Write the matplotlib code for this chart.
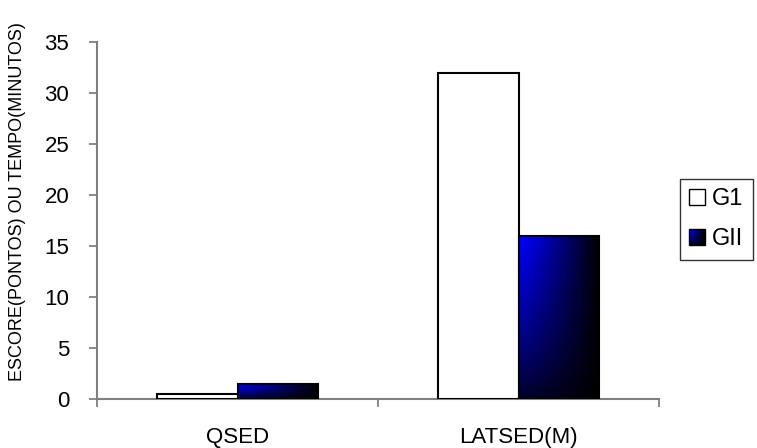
import numpy as np
import matplotlib.pyplot as plt
from matplotlib.patches import Rectangle
from matplotlib.legend_handler import HandlerPatch
from matplotlib.image import BboxImage
from matplotlib.transforms import Bbox, TransformedBbox

plt.rcParams['font.family'] = ['Liberation Sans', 'DejaVu Sans']

categories = ["QSED", "LATSED(M)"]
g1 = [0.45, 32]
gii = [1.5, 16]
series_names = ["G1", "GII"]
yticks = [0, 5, 10, 15, 20, 25, 30, 35]
ylabel = "ESCORE(PONTOS) OU TEMPO(MINUTOS)"

width = 0.288


def blue_gradient(n=64):
    # bright blue in the top-left corner, fading to black to the right and downwards
    u = np.linspace(0, 1, n)[None, :]
    v = np.linspace(1, 0, n)[:, None]
    f = np.clip((1 - u ** 1.1) * (0.15 + 0.85 * v ** 0.8), 0, 1)
    img = np.zeros((n, n, 3))
    img[..., 2] = f
    return img


def gradient_bar(ax, bar):
    x, y = bar.get_xy()
    w, h = bar.get_width(), bar.get_height()
    im = ax.imshow(blue_gradient(), extent=(x, x + w, y, y + h), aspect='auto',
                   origin='upper', zorder=2, interpolation='bilinear')
    im.set_clip_path(bar)


class GradientHandler(HandlerPatch):
    def create_artists(self, legend, orig_handle, xdescent, ydescent,
                       width, height, fontsize, trans):
        size = min(width, height)
        x0 = -xdescent + (width - size)
        y0 = -ydescent + (height - size) / 2
        rect = Rectangle((x0, y0), size, size, facecolor='none',
                         edgecolor='black', linewidth=1.0, transform=trans)
        if orig_handle.get_label() == "GII":
            bb = TransformedBbox(Bbox.from_bounds(x0, y0, size, size), trans)
            im = BboxImage(bb, interpolation='bilinear')
            im.set_data(blue_gradient())
            return [im, rect]
        rect.set_facecolor('white')
        return [rect]


fig = plt.figure(figsize=(7.57, 4.48), dpi=100)
ax = fig.add_axes([97 / 757, 1 - 399 / 448, (659 - 97) / 757, (399 - 42) / 448])

x = np.arange(len(categories))
bars1 = ax.bar(x - width / 2, g1, width, facecolor='white', edgecolor='black',
               linewidth=1.5, zorder=3, label=series_names[0])
bars2 = ax.bar(x + width / 2, gii, width, facecolor='none', edgecolor='black',
               linewidth=1.5, zorder=3, label=series_names[1])
for b in bars2:
    gradient_bar(ax, b)

ax.set_xlim(-0.5, len(categories) - 0.5)
ax.set_ylim(0, 35)
ax.set_yticks(yticks)
ax.set_xticks(x)
ax.set_xticklabels(categories)
ax.set_xticks([-0.5, 0.5, 1.5], minor=True)
ax.tick_params(axis='x', which='major', length=0, pad=20, labelsize=16)
ax.tick_params(axis='x', which='minor', length=6, color='#808080', width=1.3)
ax.tick_params(axis='y', length=6, color='#808080', width=1.3, labelsize=16, pad=14)

for s in ['top', 'right']:
    ax.spines[s].set_visible(False)
for s in ['left', 'bottom']:
    ax.spines[s].set_color('#808080')
    ax.spines[s].set_linewidth(1.5)

fig.text(18 / 757, 1 - 202 / 448, ylabel, rotation=90, va='center', ha='center',
         fontsize=13)

handles = [Rectangle((0, 0), 1, 1, label=series_names[0]),
           Rectangle((0, 0), 1, 1, label=series_names[1])]
leg = fig.legend(handles=handles, labels=series_names, loc='upper left',
                 bbox_to_anchor=(680 / 757, 1 - 179 / 448), fontsize=17,
                 frameon=True, fancybox=False, handlelength=0.65, handleheight=0.65,
                 handletextpad=0.3, borderpad=0.4, labelspacing=0.75, borderaxespad=0,
                 handler_map={Rectangle: GradientHandler()})
leg.get_frame().set_edgecolor('black')
leg.get_frame().set_linewidth(1.0)

fig.savefig("out.png", dpi=100)
